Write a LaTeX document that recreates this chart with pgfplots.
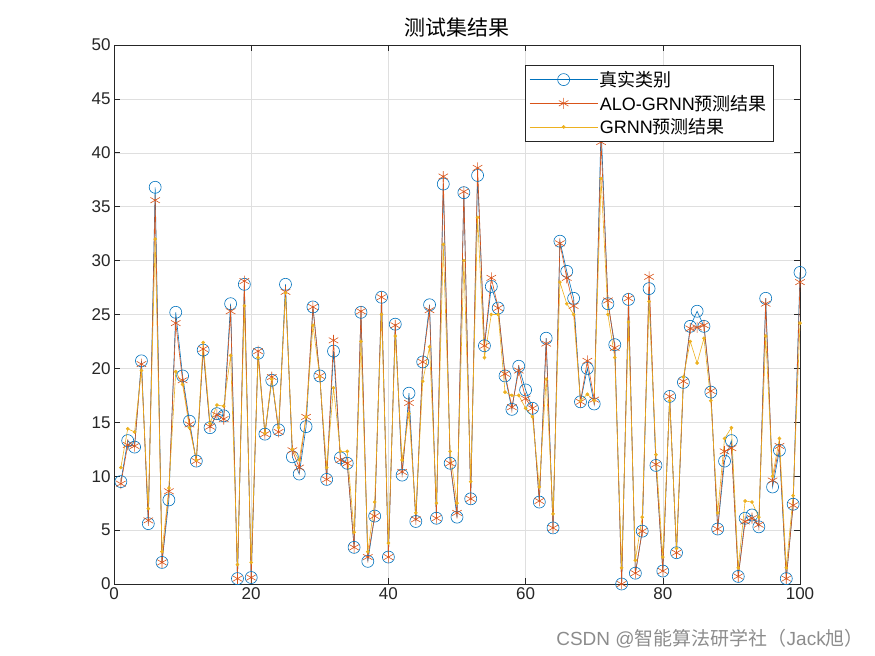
\documentclass[border=0pt]{standalone}
\usepackage{pgfplots}
\pgfplotsset{compat=1.18}
\usepackage{pgfplotstable}
\usepackage{fontspec}
\setmainfont{Liberation Sans}
\newfontfamily\cjk{Noto Sans CJK SC}
\definecolor{mblue}{rgb}{0,0.447,0.741}
\definecolor{mred}{rgb}{0.85,0.325,0.098}
\definecolor{myel}{rgb}{0.929,0.694,0.125}
\pgfplotstableread{
i t a g
1 9.5 9.3 10.8
2 13.3 12.9 14.4
3 12.7 12.8 14.1
4 20.7 20.4 19.8
5 5.6 5.9 7.0
6 36.8 35.6 32.0
7 2.0 2.0 3.0
8 7.8 8.6 8.9
9 25.2 24.2 19.7
10 19.3 18.9 18.5
11 15.1 14.8 14.5
12 11.4 11.4 11.5
13 21.7 21.8 22.4
14 14.5 14.6 14.9
15 15.8 15.7 16.6
16 15.6 15.3 16.5
17 26.0 25.3 21.2
18 0.5 0.5 1.8
19 27.8 28.1 25.8
20 0.6 0.6 2.0
21 21.4 21.6 21.0
22 13.9 13.9 14.0
23 18.9 19.2 19.0
24 14.3 14.1 14.5
25 27.8 27.1 27.0
26 11.8 12.4 12.5
27 10.2 10.8 11.5
28 14.6 15.5 15.5
29 25.7 25.7 24.0
30 19.3 19.3 19.2
31 9.7 9.7 10.8
32 21.6 22.6 18.2
33 11.7 11.5 12.3
34 11.2 11.2 12.3
35 3.4 3.4 4.8
36 25.2 25.3 22.5
37 2.1 2.5 3.0
38 6.3 6.3 7.6
39 26.6 26.6 25.0
40 2.5 2.5 3.8
41 24.1 24.0 23.0
42 10.1 10.4 11.5
43 17.7 16.8 15.8
44 5.8 6.0 6.6
45 20.6 20.6 18.8
46 25.9 25.4 22.0
47 6.1 6.1 7.5
48 37.1 37.8 31.5
49 11.2 11.2 12.3
50 6.2 6.6 7.5
51 36.3 36.4 30.0
52 7.9 7.9 9.5
53 37.9 38.6 34.0
54 22.1 22.1 21.0
55 27.6 28.4 25.0
56 25.6 25.6 25.0
57 19.3 19.5 17.8
58 16.2 16.4 17.5
59 20.2 19.8 17.5
60 18.0 17.2 16.3
61 16.3 16.3 15.5
62 7.6 7.7 9.0
63 22.8 22.3 19.0
64 5.2 5.2 6.5
65 31.8 31.6 28.0
66 29.0 28.4 26.0
67 26.5 25.8 25.0
68 16.9 16.9 17.0
69 20.0 20.7 17.6
70 16.7 17.1 17.0
71 42.5 41.0 37.6
72 26.0 26.3 25.0
73 22.2 21.9 21.0
74 0.0 0.0 1.5
75 26.4 26.5 24.3
76 1.0 1.0 2.2
77 4.9 4.9 6.2
78 27.4 28.5 26.2
79 11.0 11.1 12.0
80 1.2 1.2 2.5
81 17.4 17.4 17.0
82 2.9 2.9 3.3
83 18.7 18.8 19.2
84 23.9 23.7 22.5
85 25.3 23.8 20.5
86 23.9 24.0 22.8
87 17.8 17.9 17.0
88 5.1 5.1 6.6
89 11.4 12.3 13.5
90 13.3 12.6 14.5
91 0.7 0.7 1.5
92 6.1 5.8 7.7
93 6.4 6.1 7.6
94 5.3 5.5 6.2
95 26.5 26.0 23.0
96 9.0 9.6 10.0
97 12.4 12.8 13.5
98 0.5 0.5 1.5
99 7.4 7.3 8.2
100 28.9 28.0 24.2
}\data
\begin{document}
\begin{tikzpicture}
\begin{axis}[
  scale only axis,
  width=686pt, height=539pt,
  xmin=0, xmax=100, ymin=0, ymax=50,
  xtick={0,20,...,100}, ytick={0,5,...,50},
  tick align=inside,
  major tick length=6pt,
  grid=major,
  grid style={gray!25, line width=0.5pt},
  axis line style={black!85, line width=0.6pt},
  tick style={black!85, line width=0.6pt},
  ticklabel style={font=\fontsize{17}{19}\selectfont, text=black!85},
  /pgf/number format/assume math mode=true,
  title={\cjk 测试集结果},
  title style={font=\fontsize{21}{23}\selectfont, yshift=-2pt},
  legend style={at={(0.961,0.963)}, anchor=north east,
    font=\fontsize{18}{20}\selectfont, draw=black!85, line width=0.6pt,
    fill=white, row sep=3pt, inner sep=4pt},
  legend cell align=left,
  legend image code/.code={
    \draw[#1] (0pt,0pt) -- (68pt,0pt);
    \draw[#1, only marks] plot coordinates {(34pt,0pt)};},
]
\addplot[mblue, line width=0.6pt, mark=o, mark size=6pt, mark options={line width=0.6pt}] table[x=i,y=t] {\data};
\addlegendentry{\cjk 真实类别}
\addplot[mred, line width=0.6pt, mark=asterisk, mark size=5.5pt, mark options={line width=0.6pt}] table[x=i,y=a] {\data};
\addlegendentry{ALO-GRNN\cjk 预测结果}
\addplot[myel, line width=0.6pt, mark=*, mark size=1.5pt] table[x=i,y=g] {\data};
\addlegendentry{GRNN\cjk 预测结果}
\end{axis}
\node[anchor=south east, text=black!45, font=\fontsize{19}{21}\selectfont, inner sep=0pt] at ([xshift=64pt,yshift=-64pt]current axis.south east) {CSDN @\cjk 智能算法研学社（\rmfamily Jack\cjk 旭）};
\pgfresetboundingbox
\path ([xshift=-114pt,yshift=-72pt]current axis.south west) rectangle ([xshift=75pt,yshift=45pt]current axis.north east);
\end{tikzpicture}
\end{document}
